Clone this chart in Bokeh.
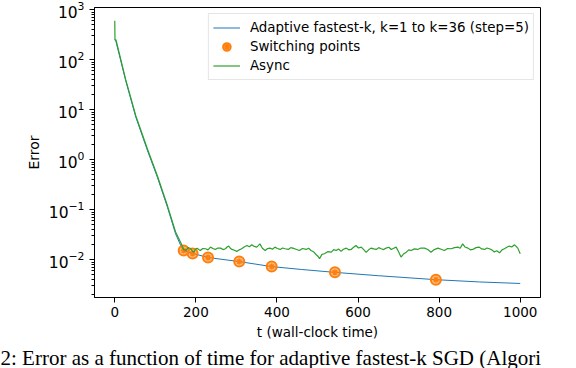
from bokeh.plotting import figure
from bokeh.models import Range1d, Legend, LegendItem, Title, FixedTicker
from bokeh.embed import file_html
from bokeh.resources import INLINE

# ---- data ----
adaptive_t = [0, 2.5, 27, 52, 81, 105, 130, 150, 163, 170, 192, 230, 307, 387, 460, 543, 650, 792, 900, 1000]
adaptive_err = [250, 240, 38, 7.1, 1.5, 0.45, 0.112, 0.033, 0.019, 0.0153, 0.0134, 0.0111, 0.0092, 0.0073,
                0.0064, 0.0056, 0.0048, 0.0040, 0.0036, 0.00336]

switch_t = [170, 192, 230, 307, 387, 543, 792]
switch_err = [0.0153, 0.0134, 0.0111, 0.0092, 0.0073, 0.0056, 0.0040]

async_t = [0, 0.5, 3, 27, 52, 81, 105, 130, 150, 164,
           170, 175, 181, 187, 191, 195, 199, 203, 207, 211, 217, 224, 230, 236, 242, 248, 254, 261,
           267, 273, 277, 281, 285, 289, 295, 301, 307, 313, 319, 326, 332, 338, 344, 350, 354, 358,
           364, 371, 377, 383, 389, 395, 401, 408, 414, 420, 428, 434, 439, 447, 455, 463, 472, 478,
           484, 490, 497, 501, 505, 511, 517, 525, 534, 540, 546, 552, 558, 564, 571, 577, 583, 589,
           595, 601, 608, 614, 620, 626, 632, 639, 645, 651, 657, 663, 669, 676, 682, 688, 694, 700,
           706, 712, 719, 725, 731, 739, 747, 755, 764, 772, 780, 788, 797, 805, 813, 821, 830, 838,
           846, 852, 858, 864, 871, 877, 883, 891, 899, 905, 912, 918, 924, 930, 936, 942, 949, 955,
           961, 967, 973, 979, 986, 990, 994, 1000]
async_err = [600, 250, 250, 40, 7.5, 1.6, 0.48, 0.12, 0.036, 0.021,
             0.0160, 0.0153, 0.0175, 0.0168, 0.0150, 0.0142, 0.0162, 0.0171, 0.0160, 0.0153, 0.0168,
             0.0166, 0.0158, 0.0179, 0.0168, 0.0161, 0.0172, 0.0171, 0.0160, 0.0166, 0.0180, 0.0188,
             0.0170, 0.0161, 0.0155, 0.0147, 0.0158, 0.0166, 0.0180, 0.0193, 0.0182, 0.0199, 0.0185,
             0.0179, 0.0192, 0.0208, 0.0170, 0.0153, 0.0168, 0.0171, 0.0162, 0.0179, 0.0168, 0.0161,
             0.0172, 0.0166, 0.0161, 0.0175, 0.0171, 0.0162, 0.0153, 0.0168, 0.0161, 0.0170, 0.0153,
             0.0145, 0.0126, 0.0118, 0.0105, 0.0128, 0.0132, 0.0145, 0.0142, 0.0160, 0.0153, 0.0165,
             0.0147, 0.0162, 0.0171, 0.0158, 0.0161, 0.0178, 0.0193, 0.0172, 0.0179, 0.0160, 0.0141,
             0.0158, 0.0171, 0.0165, 0.0161, 0.0175, 0.0166, 0.0160, 0.0171, 0.0178, 0.0161, 0.0170,
             0.0179, 0.0145, 0.0113, 0.0130, 0.0142, 0.0158, 0.0153, 0.0165, 0.0161, 0.0172, 0.0171,
             0.0160, 0.0142, 0.0160, 0.0171, 0.0162, 0.0153, 0.0168, 0.0166, 0.0175, 0.0179, 0.0170,
             0.0208, 0.0180, 0.0171, 0.0158, 0.0161, 0.0175, 0.0179, 0.0165, 0.0161, 0.0172, 0.0166,
             0.0158, 0.0143, 0.0152, 0.0138, 0.0158, 0.0166, 0.0178, 0.0188, 0.0180, 0.0199, 0.0185,
             0.0171, 0.0132]

x_ticks = [0, 200, 400, 600, 800, 1000]
y_ticks = [1e-2, 1e-1, 1e0, 1e1, 1e2, 1e3]
y_minor_mantissas = [2, 3, 4, 5, 6, 7, 8, 9]

label_adaptive = "Adaptive fastest-k, k=1 to k=36 (step=5)"
label_switch = "Switching points"
label_async = "Async"
x_label = "t (wall-clock time)"
y_label = "Error"
caption = "2: Error as a function of time for adaptive fastest-k SGD (Algori"

BLUE = "#1f77b4"
ORANGE = "#ff7f0e"
GREEN = "#2ca02c"
FONT = "DejaVu Sans"

p = figure(frame_width=446, frame_height=290, y_axis_type="log",
           x_range=Range1d(-50, 1050), y_range=Range1d(1.76e-3, 1.11e3),
           output_backend="svg", toolbar_location=None,
           min_border_left=94, min_border_right=36, min_border_top=7, min_border_bottom=0)

p.grid.visible = False
p.outline_line_color = "black"
p.outline_line_width = 1
p.background_fill_color = "white"
p.border_fill_color = "white"

r_blue = p.line(adaptive_t, adaptive_err, line_color=BLUE, line_width=1)
r_ring = p.scatter(switch_t, switch_err, marker="circle", size=10, fill_color=ORANGE, fill_alpha=0.5,
                   line_color=ORANGE, line_width=2)
r_ast = p.scatter(switch_t, switch_err, marker="asterisk", size=6, line_color=ORANGE, line_width=1.5)
r_green = p.line(async_t, async_err, line_color=GREEN, line_width=1.2)

minor = [m * t for t in [1e-3] + y_ticks for m in y_minor_mantissas]
p.xaxis.ticker = FixedTicker(ticks=x_ticks)
p.yaxis.ticker = FixedTicker(ticks=y_ticks, minor_ticks=minor)

for ax in (p.xaxis[0], p.yaxis[0]):
    ax.axis_line_color = "black"
    ax.major_tick_line_color = "black"
    ax.minor_tick_line_color = "black"
    ax.major_tick_out = 5
    ax.major_tick_in = 0
    ax.minor_tick_out = 3
    ax.minor_tick_in = 0
    ax.major_label_text_font = FONT
    ax.major_label_text_font_size = "13.5px"
    ax.major_label_text_color = "black"
    ax.axis_label_text_font = FONT
    ax.axis_label_text_font_size = "13.5px"
    ax.axis_label_text_font_style = "normal"
    ax.axis_label_text_color = "black"
p.yaxis.major_label_text_font_size = "15.5px"
p.yaxis.axis_label_text_font_size = "14px"
p.xaxis.minor_tick_line_color = None
p.xaxis.axis_label = x_label
p.yaxis.axis_label = y_label
p.xaxis.axis_label_standoff = 4
p.xaxis.major_label_standoff = 4
p.yaxis.major_label_standoff = 5
p.yaxis.axis_label_standoff = 4

legend = Legend(items=[LegendItem(label=label_adaptive, renderers=[r_blue]),
                       LegendItem(label=label_switch, renderers=[r_ring, r_ast]),
                       LegendItem(label=label_async, renderers=[r_green])],
                location="top_right")
legend.label_text_font = FONT
legend.label_text_font_size = "13.4px"
legend.label_text_color = "black"
legend.border_line_color = "#cccccc"
legend.border_line_width = 1
legend.background_fill_alpha = 0.8
legend.margin = 6
legend.padding = 4
legend.spacing = 0
legend.glyph_width = 27
legend.glyph_height = 19
legend.label_height = 19
legend.label_standoff = 10
p.add_layout(legend)

cap = Title(text=caption, text_font="Liberation Serif", text_font_size="21px", text_font_style="normal",
            text_color="black", align="left", offset=-94, standoff=2)
p.add_layout(cap, "below")

with open("out.html", "w") as f:
    f.write(file_html(p, INLINE))
